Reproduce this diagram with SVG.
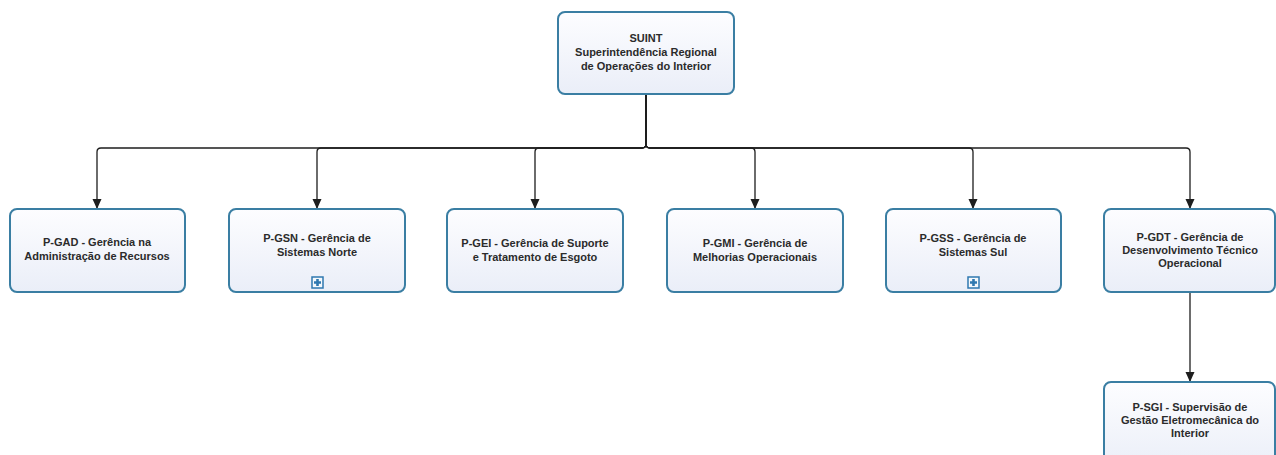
<svg xmlns="http://www.w3.org/2000/svg" width="1276" height="455" viewBox="0 0 1276 455">
  <style>
    .box { fill: url(#boxFill); stroke: #3a7ea3; stroke-width: 2; }
    .lbl { font-family: "Liberation Sans", Arial, sans-serif; font-size: 11px; font-weight: bold; fill: #2b2b2b; text-anchor: middle; }
    .wire { fill: none; stroke: #1e1e1e; stroke-width: 1.3; marker-end: url(#arrow); }
    .icon { fill: #f4f8fc; stroke: #2f78b0; stroke-width: 1.5; }
    .plus { stroke: #2f78b0; stroke-width: 2.6; }
  </style>
  <defs>
    <linearGradient id="boxFill" x1="0" y1="0" x2="0" y2="1">
      <stop offset="0" stop-color="#fdfdff"/>
      <stop offset="1" stop-color="#eaeef8"/>
    </linearGradient>
    <marker id="arrow" markerUnits="userSpaceOnUse" markerWidth="12" markerHeight="12" viewBox="0 0 12 12" refX="11" refY="6" orient="auto">
      <path d="M1 1.5 L11 6 L1 10.5 Z" fill="#1e1e1e"/>
    </marker>
  </defs>

  <rect width="1276" height="455" fill="#ffffff"/>

  <!-- connectors -->
  <g id="connectors">
    <path class="wire" d="M646 94 V144 Q646 148 642 148 H101 Q97 148 97 152 V209"/>
    <path class="wire" d="M646 94 V144 Q646 148 642 148 H321 Q317 148 317 152 V209"/>
    <path class="wire" d="M646 94 V144 Q646 148 642 148 H539 Q535 148 535 152 V209"/>
    <path class="wire" d="M646 94 V144 Q646 148 650 148 H751 Q755 148 755 152 V209"/>
    <path class="wire" d="M646 94 V144 Q646 148 650 148 H969 Q973 148 973 152 V209"/>
    <path class="wire" d="M646 94 V144 Q646 148 650 148 H1186 Q1190 148 1190 152 V209"/>
    <path class="wire" d="M1190 292 V382"/>
  </g>

  <!-- root unit -->
  <g id="suint">
    <rect class="box" x="558" y="12" width="176" height="82" rx="7"/>
    <text class="lbl" x="646" y="42">SUINT</text>
    <text class="lbl" x="646" y="56">Superintendência Regional</text>
    <text class="lbl" x="646" y="70">de Operações do Interior</text>
  </g>

  <g id="p-gad">
    <rect class="box" x="10" y="209" width="175" height="83" rx="7"/>
    <text class="lbl" x="97" y="246">P-GAD - Gerência na</text>
    <text class="lbl" x="97" y="260">Administração de Recursos</text>
  </g>

  <g id="p-gsn">
    <rect class="box" x="229" y="209" width="176" height="83" rx="7"/>
    <text class="lbl" x="317" y="242">P-GSN - Gerência de</text>
    <text class="lbl" x="317" y="256">Sistemas Norte</text>
    <rect class="icon" x="312" y="277" width="11" height="11"/>
    <path class="plus" d="M314 282.5 H321 M317.5 279 V286"/>
  </g>

  <g id="p-gei">
    <rect class="box" x="447" y="209" width="176" height="83" rx="7"/>
    <text class="lbl" x="535" y="247">P-GEI - Gerência de Suporte</text>
    <text class="lbl" x="535" y="261">e Tratamento de Esgoto</text>
  </g>

  <g id="p-gmi">
    <rect class="box" x="667" y="209" width="176" height="83" rx="7"/>
    <text class="lbl" x="755" y="247">P-GMI - Gerência de</text>
    <text class="lbl" x="755" y="261">Melhorias Operacionais</text>
  </g>

  <g id="p-gss">
    <rect class="box" x="886" y="209" width="175" height="83" rx="7"/>
    <text class="lbl" x="973" y="242">P-GSS - Gerência de</text>
    <text class="lbl" x="973" y="256">Sistemas Sul</text>
    <rect class="icon" x="968" y="277" width="11" height="11"/>
    <path class="plus" d="M970 282.5 H977 M973.5 279 V286"/>
  </g>

  <g id="p-gdt">
    <rect class="box" x="1104" y="209" width="171" height="83" rx="7"/>
    <text class="lbl" x="1190" y="241">P-GDT - Gerência de</text>
    <text class="lbl" x="1190" y="254">Desenvolvimento Técnico</text>
    <text class="lbl" x="1190" y="267">Operacional</text>
  </g>

  <g id="p-sgi">
    <rect class="box" x="1104" y="382" width="171" height="90" rx="7"/>
    <text class="lbl" x="1190" y="411">P-SGI - Supervisão de</text>
    <text class="lbl" x="1190" y="424">Gestão Eletromecânica do</text>
    <text class="lbl" x="1190" y="437">Interior</text>
  </g>
</svg>
